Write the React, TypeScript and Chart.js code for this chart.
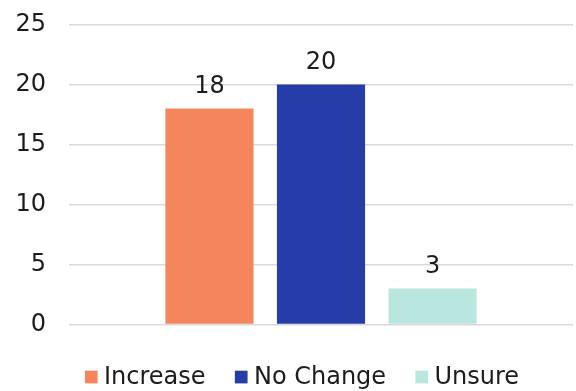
import React, { useEffect, useRef } from "react";
import { Chart, registerables } from "chart.js";

Chart.register(...registerables);

const categories = [""];
const seriesNames = ["Increase", "No Change", "Unsure"];
const seriesValues = [[18], [20], [3]];
const seriesColors = ["#F4855C", "#263CA6", "#BAE6E0"];
const yTicks = [0, 5, 10, 15, 20, 25];

const FONT = "'DejaVu Sans', sans-serif";
const TEXT_COLOR = "#1c1c1c";

// Writes each bar's value just above it.
const valueLabels = {
  id: "valueLabels",
  afterDatasetsDraw(chart: any) {
    const ctx = chart.ctx;
    ctx.save();
    ctx.font = `24px ${FONT}`;
    ctx.fillStyle = TEXT_COLOR;
    ctx.textAlign = "center";
    ctx.textBaseline = "alphabetic";
    chart.data.datasets.forEach((ds: any, i: number) => {
      const meta = chart.getDatasetMeta(i);
      meta.data.forEach((bar: any, j: number) => {
        ctx.fillText(String(ds.data[j]), bar.x, bar.y - 15.5);
      });
    });
    ctx.restore();
  },
};

// Square-swatch legend centred under the plot.
const bottomLegend = {
  id: "bottomLegend",
  afterDraw(chart: any) {
    const ctx = chart.ctx;
    const box = 12.7;
    const textGap = 6.4;
    const itemGap = 29.3;
    ctx.save();
    ctx.font = `24px ${FONT}`;
    const items = chart.data.datasets.map((ds: any) => ({
      label: ds.label,
      color: ds.backgroundColor,
      w: ctx.measureText(ds.label).width,
    }));
    const total =
      items.reduce((s: number, it: any) => s + box + textGap + it.w, 0) +
      itemGap * (items.length - 1);
    let x = chart.width / 2 + 14 - total / 2;
    const baseline = 384.3;
    ctx.textBaseline = "alphabetic";
    ctx.textAlign = "left";
    items.forEach((it: any) => {
      ctx.fillStyle = it.color;
      ctx.fillRect(x, 370.7, box, box);
      ctx.fillStyle = TEXT_COLOR;
      ctx.fillText(it.label, x + box + textGap, baseline);
      x += box + textGap + it.w + itemGap;
    });
    ctx.restore();
  },
};

export default function App() {
  const canvasRef = useRef<HTMLCanvasElement | null>(null);

  useEffect(() => {
    if (!canvasRef.current) return;
    const chart = new Chart(canvasRef.current, {
      type: "bar",
      data: {
        labels: categories,
        datasets: seriesNames.map((name, i) => ({
          label: name,
          data: seriesValues[i],
          backgroundColor: seriesColors[i],
          borderWidth: 0,
          categoryPercentage: 0.664,
          barPercentage: 0.79,
        })),
      },
      options: {
        animation: false,
        responsive: false,
        maintainAspectRatio: false,
        layout: { padding: { left: 16, right: 3, top: 24.5, bottom: 66.5 } },
        plugins: {
          legend: { display: false },
          tooltip: { enabled: false },
        },
        scales: {
          x: { display: false },
          y: {
            min: 0,
            max: 25,
            afterBuildTicks: (scale: any) => {
              scale.ticks = yTicks.map((v) => ({ value: v }));
            },
            afterFit: (scale: any) => {
              scale.width = 53;
              scale.paddingTop = 0;
              scale.paddingBottom = 0;
            },
            border: { display: false },
            grid: { color: "#d9d9d9", lineWidth: 1.6, drawTicks: false },
            ticks: {
              padding: 23,
              color: TEXT_COLOR,
              font: { family: FONT, size: 24 },
            },
          },
        },
      },
      plugins: [valueLabels, bottomLegend],
    });
    return () => chart.destroy();
  }, []);

  return (
    <div style={{ position: "absolute", left: 0, top: 0, width: 576, height: 391, background: "#fff" }}>
      <canvas ref={canvasRef} width={576} height={391} style={{ width: 576, height: 391 }} />
    </div>
  );
}
